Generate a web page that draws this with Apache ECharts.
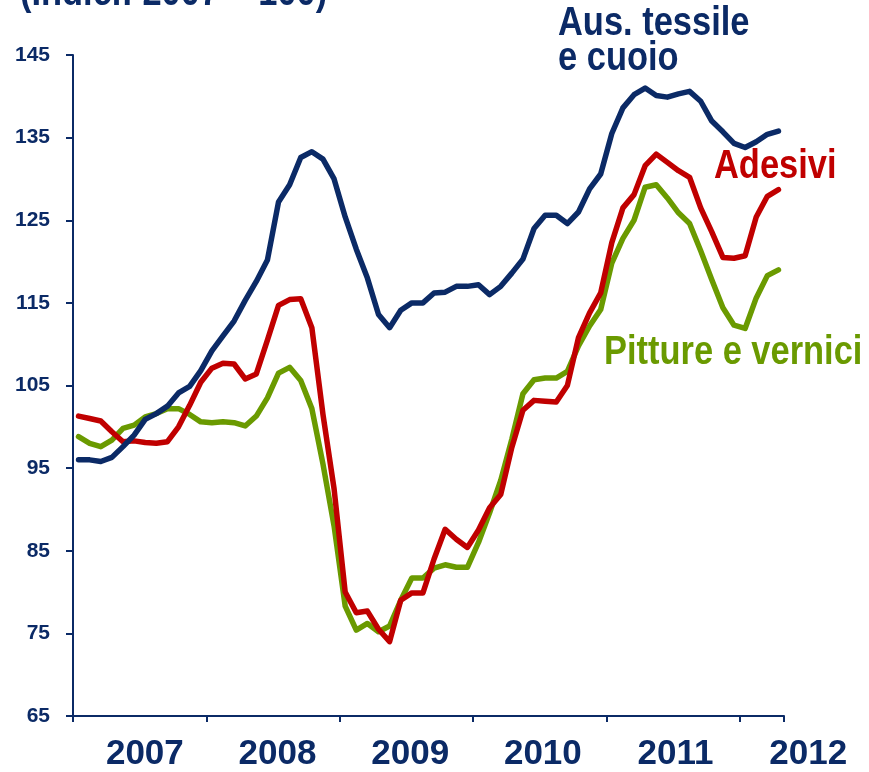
<!DOCTYPE html>
<html>
<head>
<meta charset="utf-8">
<title>Indici 2007 = 100</title>
<script src="https://cdn.jsdelivr.net/npm/echarts@6/dist/echarts.min.js"></script>
<style>
  html, body { margin: 0; padding: 0; background: #fff; }
  #chart { width: 869px; height: 772px; }
</style>
</head>
<body>
<div id="chart"></div>
<script>
// monthly index, Jan 2007 .. Apr 2012 (2007 = 100)
var years = ["2007", "2008", "2009", "2010", "2011", "2012"];
var yearCenters = [6.5, 18.5, 30.5, 42.5, 54.5, 66.5];

var tessile = [
  96.0, 96.0, 95.8, 96.3, 97.6, 99.0, 100.9, 101.6, 102.5, 104.1, 104.9, 106.8,
  109.2, 111.0, 112.8, 115.3, 117.6, 120.2, 127.2, 129.3, 132.6, 133.3, 132.4, 130.0,
  125.4, 121.5, 118.0, 113.6, 112.0, 114.1, 115.0, 115.0, 116.2, 116.3, 117.0, 117.0,
  117.2, 116.0, 117.0, 118.6, 120.3, 124.0, 125.6, 125.6, 124.6, 126.0, 128.8, 130.6,
  135.5, 138.6, 140.2, 141.0, 140.1, 139.9, 140.3, 140.6, 139.4, 137.0, 135.7, 134.3,
  133.8, 134.5, 135.4, 135.8
];
var adesivi = [
  101.3, 101.0, 100.7, 99.4, 98.2, 98.3, 98.1, 98.0, 98.2, 100.0, 102.6, 105.4,
  107.1, 107.7, 107.6, 105.8, 106.4, 110.5, 114.7, 115.4, 115.5, 112.0, 101.5, 92.5,
  80.0, 77.5, 77.7, 75.5, 74.0, 79.0, 79.9, 79.9, 84.0, 87.6, 86.4, 85.4,
  87.5, 90.2, 91.8, 97.5, 102.0, 103.2, 103.1, 103.0, 105.0, 110.8, 113.8, 116.2,
  122.3, 126.5, 128.1, 131.6, 133.0, 132.0, 131.0, 130.2, 126.5, 123.6, 120.5, 120.4,
  120.7, 125.4, 127.9, 128.7
];
var pitture = [
  98.8, 98.0, 97.6, 98.4, 99.8, 100.2, 101.2, 101.6, 102.2, 102.2, 101.5, 100.6,
  100.5, 100.6, 100.5, 100.1, 101.3, 103.5, 106.5, 107.2, 105.6, 102.2, 95.5, 88.0,
  78.3, 75.4, 76.2, 75.2, 75.9, 79.0, 81.7, 81.7, 82.9, 83.3, 83.0, 83.0,
  86.0, 89.6, 93.5, 98.5, 104.0, 105.7, 105.9, 105.9, 106.7, 109.8, 112.2, 114.2,
  119.8, 122.8, 125.0, 129.0, 129.3, 127.7, 125.9, 124.6, 121.3, 117.8, 114.4, 112.3,
  111.9, 115.6, 118.3, 119.0
];

var NAVY = "#0b2a66";
var RED = "#c00000";
var GREEN = "#6a9a00";
var SANS = '"Liberation Sans", Arial, sans-serif';

// put each value at the middle of its month
function toPoints(arr) {
  return arr.map(function (v, i) { return [i + 0.5, v]; });
}

function lineSeries(name, data, color) {
  return {
    name: name,
    type: "line",
    xAxisIndex: 0,
    yAxisIndex: 0,
    data: toPoints(data),
    symbol: "none",
    lineStyle: { color: color, width: 5.5, join: "round", cap: "round" },
    itemStyle: { color: color },
    z: 3
  };
}

// narrow-looking bold text: regular bold squeezed horizontally
function label(text, x, y, color, lh) {
  return {
    type: "text",
    x: x,
    y: y,
    scaleX: 0.84,
    style: {
      text: text,
      fill: color,
      font: "bold 41px " + SANS,
      lineHeight: lh || 41,
      textVerticalAlign: "top",
      verticalAlign: "top"
    }
  };
}

var chart = echarts.init(document.getElementById("chart"), null, { renderer: "canvas" });

chart.setOption({
  backgroundColor: "#ffffff",
  animation: false,
  grid: [
    { left: 73, right: 85, top: 55, bottom: 56 },
    // same scale, wider, only used to carry the year labels
    { left: 73, right: -4, top: 55, bottom: 56 }
  ],
  xAxis: [
    {
      gridIndex: 0,
      type: "value",
      min: 0,
      max: 64,
      interval: 12,
      axisLine: { show: true, lineStyle: { color: NAVY, width: 2 } },
      axisTick: { show: true, length: 6, lineStyle: { color: NAVY, width: 2 } },
      axisLabel: { show: false },
      splitLine: { show: false }
    },
    {
      gridIndex: 1,
      type: "value",
      min: 0,
      max: 72,
      axisLine: { show: false },
      axisTick: { show: false },
      splitLine: { show: false },
      axisLabel: {
        show: true,
        customValues: yearCenters,
        margin: 27,
        color: NAVY,
        fontFamily: SANS,
        fontWeight: "bold",
        fontSize: 35,
        formatter: function (v) {
          var k = yearCenters.indexOf(v);
          return k >= 0 ? years[k] : "";
        }
      }
    }
  ],
  yAxis: [
    {
      gridIndex: 0,
      type: "value",
      min: 65,
      max: 145,
      interval: 10,
      axisLine: { show: true, lineStyle: { color: NAVY, width: 2 } },
      axisTick: { show: true, length: 7, lineStyle: { color: NAVY, width: 2 } },
      splitLine: { show: false },
      axisLabel: {
        margin: 23,
        color: NAVY,
        fontFamily: SANS,
        fontWeight: "bold",
        fontSize: 21
      }
    },
    {
      gridIndex: 1,
      type: "value",
      min: 65,
      max: 145,
      show: false
    }
  ],
  series: [
    lineSeries("Pitture e vernici", pitture, GREEN),
    lineSeries("Adesivi", adesivi, RED),
    lineSeries("Aus. tessile e cuoio", tessile, NAVY)
  ],
  graphic: [
    label("(Indici: 2007 = 100)", 20, -27, NAVY),
    label("Aus. tessile\ne cuoio", 558, 6, NAVY, 35),
    label("Adesivi", 714, 146, RED),
    label("Pitture e vernici", 604, 332, GREEN)
  ]
});
</script>
</body>
</html>
